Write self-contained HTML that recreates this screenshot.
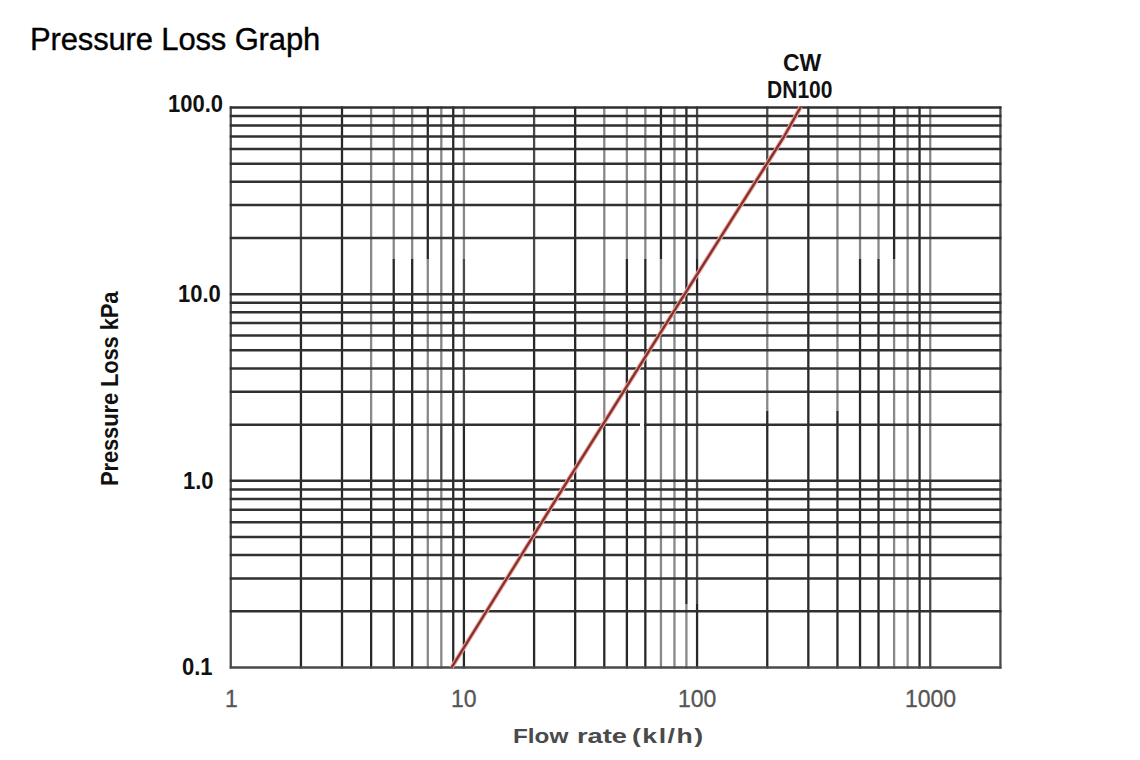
<!DOCTYPE html>
<html><head><meta charset="utf-8"><style>
html,body{margin:0;padding:0;background:#fff;}
body{width:1140px;height:760px;position:relative;overflow:hidden;font-family:"Liberation Sans",sans-serif;}
.t{position:absolute;white-space:nowrap;line-height:1;}
#title{left:30px;top:24px;font-size:31px;color:#000;letter-spacing:-0.15px;-webkit-text-stroke:0.35px #000;}
.yl{font-weight:bold;font-size:22px;color:#111;transform:scaleY(1.07);}
.xl{font-size:23px;color:#555;-webkit-text-stroke:0.3px #555;}
.xt{font-weight:bold;font-size:20.5px;color:#4a4a4a;transform-origin:0 0;}
#yt{font-weight:bold;font-size:22px;letter-spacing:-0.15px;color:#111;transform-origin:0 0;transform:rotate(-90deg) scaleY(1.07);}
.cw{font-weight:bold;font-size:23px;color:#111;}
</style></head><body>
<svg width="1140" height="760" viewBox="0 0 1140 760" style="position:absolute;left:0;top:0">
<g>
<g stroke-width="2.3" fill="none">
<line x1="230.75" y1="106.50" x2="230.75" y2="668.51" stroke="#4a4a4a"/>
<line x1="300.94" y1="106.50" x2="300.94" y2="294.17" stroke="#4a4a4a"/>
<line x1="300.94" y1="294.17" x2="300.94" y2="668.51" stroke="#282828"/>
<line x1="342.00" y1="106.50" x2="342.00" y2="668.51" stroke="#282828"/>
<line x1="371.13" y1="106.50" x2="371.13" y2="425.00" stroke="#888888"/>
<line x1="371.13" y1="425.00" x2="371.13" y2="668.51" stroke="#282828"/>
<line x1="393.72" y1="106.50" x2="393.72" y2="259.00" stroke="#888888"/>
<line x1="393.72" y1="259.00" x2="393.72" y2="668.51" stroke="#282828"/>
<line x1="412.18" y1="106.50" x2="412.18" y2="259.00" stroke="#888888"/>
<line x1="412.18" y1="259.00" x2="412.18" y2="668.51" stroke="#282828"/>
<line x1="427.79" y1="106.50" x2="427.79" y2="259.00" stroke="#282828"/>
<line x1="427.79" y1="259.00" x2="427.79" y2="668.51" stroke="#888888"/>
<line x1="441.31" y1="106.50" x2="441.31" y2="425.00" stroke="#888888"/>
<line x1="441.31" y1="425.00" x2="441.31" y2="480.84" stroke="#4a4a4a"/>
<line x1="441.31" y1="480.84" x2="441.31" y2="668.51" stroke="#888888"/>
<line x1="453.24" y1="106.50" x2="453.24" y2="668.51" stroke="#282828"/>
<line x1="463.91" y1="106.50" x2="463.91" y2="259.00" stroke="#888888"/>
<line x1="463.91" y1="259.00" x2="463.91" y2="425.00" stroke="#4a4a4a"/>
<line x1="463.91" y1="425.00" x2="463.91" y2="668.51" stroke="#282828"/>
<line x1="534.10" y1="106.50" x2="534.10" y2="294.17" stroke="#4a4a4a"/>
<line x1="534.10" y1="294.17" x2="534.10" y2="668.51" stroke="#282828"/>
<line x1="575.16" y1="106.50" x2="575.16" y2="668.51" stroke="#282828"/>
<line x1="604.29" y1="106.50" x2="604.29" y2="425.00" stroke="#888888"/>
<line x1="604.29" y1="425.00" x2="604.29" y2="668.51" stroke="#282828"/>
<line x1="626.88" y1="106.50" x2="626.88" y2="259.00" stroke="#888888"/>
<line x1="626.88" y1="259.00" x2="626.88" y2="668.51" stroke="#282828"/>
<line x1="645.34" y1="106.50" x2="645.34" y2="259.00" stroke="#888888"/>
<line x1="645.34" y1="259.00" x2="645.34" y2="668.51" stroke="#282828"/>
<line x1="660.95" y1="106.50" x2="660.95" y2="259.00" stroke="#282828"/>
<line x1="660.95" y1="259.00" x2="660.95" y2="668.51" stroke="#888888"/>
<line x1="674.47" y1="106.50" x2="674.47" y2="668.51" stroke="#888888"/>
<line x1="686.40" y1="106.50" x2="686.40" y2="604.00" stroke="#282828"/>
<line x1="686.40" y1="604.00" x2="686.40" y2="668.51" stroke="#888888"/>
<line x1="697.07" y1="106.50" x2="697.07" y2="259.00" stroke="#4a4a4a"/>
<line x1="697.07" y1="259.00" x2="697.07" y2="294.17" stroke="#282828"/>
<line x1="697.07" y1="294.17" x2="697.07" y2="604.00" stroke="#4a4a4a"/>
<line x1="697.07" y1="604.00" x2="697.07" y2="668.51" stroke="#282828"/>
<line x1="767.26" y1="106.50" x2="767.26" y2="294.17" stroke="#4a4a4a"/>
<line x1="767.26" y1="294.17" x2="767.26" y2="411.00" stroke="#888888"/>
<line x1="767.26" y1="411.00" x2="767.26" y2="668.51" stroke="#282828"/>
<line x1="808.32" y1="106.50" x2="808.32" y2="668.51" stroke="#282828"/>
<line x1="837.45" y1="106.50" x2="837.45" y2="411.00" stroke="#888888"/>
<line x1="837.45" y1="411.00" x2="837.45" y2="668.51" stroke="#282828"/>
<line x1="860.04" y1="106.50" x2="860.04" y2="259.00" stroke="#888888"/>
<line x1="860.04" y1="259.00" x2="860.04" y2="668.51" stroke="#282828"/>
<line x1="878.50" y1="106.50" x2="878.50" y2="259.00" stroke="#888888"/>
<line x1="878.50" y1="259.00" x2="878.50" y2="668.51" stroke="#282828"/>
<line x1="894.11" y1="106.50" x2="894.11" y2="259.00" stroke="#282828"/>
<line x1="894.11" y1="259.00" x2="894.11" y2="668.51" stroke="#888888"/>
<line x1="907.63" y1="106.50" x2="907.63" y2="668.51" stroke="#888888"/>
<line x1="919.56" y1="106.50" x2="919.56" y2="668.51" stroke="#282828"/>
<line x1="930.23" y1="106.50" x2="930.23" y2="480.84" stroke="#888888"/>
<line x1="930.23" y1="480.84" x2="930.23" y2="668.51" stroke="#4a4a4a"/>
<line x1="1000.42" y1="106.50" x2="1000.42" y2="668.51" stroke="#4a4a4a"/>
</g>
<g stroke="#303030" stroke-width="2.5" fill="none">
<line x1="229.75" y1="667.51" x2="1001.42" y2="667.51" stroke="#4a4a4a"/>
<line x1="229.75" y1="611.32" x2="1001.42" y2="611.32"/>
<line x1="229.75" y1="578.45" x2="1001.42" y2="578.45"/>
<line x1="229.75" y1="555.12" x2="1001.42" y2="555.12"/>
<line x1="229.75" y1="537.03" x2="1001.42" y2="537.03"/>
<line x1="229.75" y1="522.25" x2="1001.42" y2="522.25"/>
<line x1="229.75" y1="509.76" x2="1001.42" y2="509.76"/>
<line x1="229.75" y1="498.93" x2="1001.42" y2="498.93"/>
<line x1="229.75" y1="489.38" x2="1001.42" y2="489.38"/>
<line x1="229.75" y1="480.84" x2="1001.42" y2="480.84"/>
<line x1="229.75" y1="424.65" x2="1001.42" y2="424.65"/>
<line x1="229.75" y1="391.78" x2="1001.42" y2="391.78"/>
<line x1="229.75" y1="368.45" x2="1001.42" y2="368.45"/>
<line x1="229.75" y1="350.36" x2="1001.42" y2="350.36"/>
<line x1="229.75" y1="335.58" x2="1001.42" y2="335.58"/>
<line x1="229.75" y1="323.09" x2="1001.42" y2="323.09"/>
<line x1="229.75" y1="312.26" x2="1001.42" y2="312.26"/>
<line x1="229.75" y1="302.71" x2="1001.42" y2="302.71"/>
<line x1="229.75" y1="294.17" x2="1001.42" y2="294.17"/>
<line x1="229.75" y1="237.98" x2="1001.42" y2="237.98"/>
<line x1="229.75" y1="205.11" x2="1001.42" y2="205.11"/>
<line x1="229.75" y1="181.78" x2="1001.42" y2="181.78"/>
<line x1="229.75" y1="163.69" x2="1001.42" y2="163.69"/>
<line x1="229.75" y1="148.91" x2="1001.42" y2="148.91"/>
<line x1="229.75" y1="136.42" x2="1001.42" y2="136.42"/>
<line x1="229.75" y1="125.59" x2="1001.42" y2="125.59"/>
<line x1="229.75" y1="116.04" x2="1001.42" y2="116.04"/>
<line x1="229.75" y1="107.50" x2="1001.42" y2="107.50"/>
</g>
<rect x="640" y="422.65" width="4" height="4" fill="#fff"/>
<polyline points="451.5,667.6 567.4,481.05 684.7,294.2 784.2,136.3 800.8,106.8" fill="none" stroke="#e6aaa5" stroke-width="4.4" stroke-linejoin="round"/>
<polyline points="451.5,667.6 567.4,481.05 684.7,294.2 784.2,136.3 800.8,106.8" fill="none" stroke="#8a2f2a" stroke-width="2.3" stroke-linejoin="round"/>
</g>
</svg>
<div class="t" id="title">Pressure Loss Graph</div>
<div class="t yl" id="y100" style="left:168px;top:94px">100.0</div>
<div class="t yl" id="y10" style="left:178px;top:284px">10.0</div>
<div class="t yl" id="y1" style="left:183px;top:471px">1.0</div>
<div class="t yl" id="y01" style="left:182px;top:657px">0.1</div>
<div class="t xl" id="x1" style="left:225px;top:688px">1</div>
<div class="t xl" id="x10" style="left:451px;top:688px">10</div>
<div class="t xl" id="x100" style="left:678px;top:688px">100</div>
<div class="t xl" id="x1000" style="left:905px;top:688px">1000</div>
<div class="t xt" id="xt1" style="left:512.8px;top:726px;transform:scaleX(1.185)">Flow</div>
<div class="t xt" id="xt2" style="left:576.6px;top:726px;transform:scaleX(1.33)">rate</div>
<div class="t xt" id="xt3" style="left:631.5px;top:726px;letter-spacing:1.15px;transform:scaleX(1.3)">(kl/h)</div>
<div class="t" id="yt" style="left:99px;top:486px">Pressure Loss kPa</div>
<div class="t cw" id="cw" style="left:783px;top:52px">CW</div>
<div class="t cw" id="dn" style="left:767px;top:79px;transform-origin:0 0;transform:scaleX(0.915)">DN100</div>
</body></html>
